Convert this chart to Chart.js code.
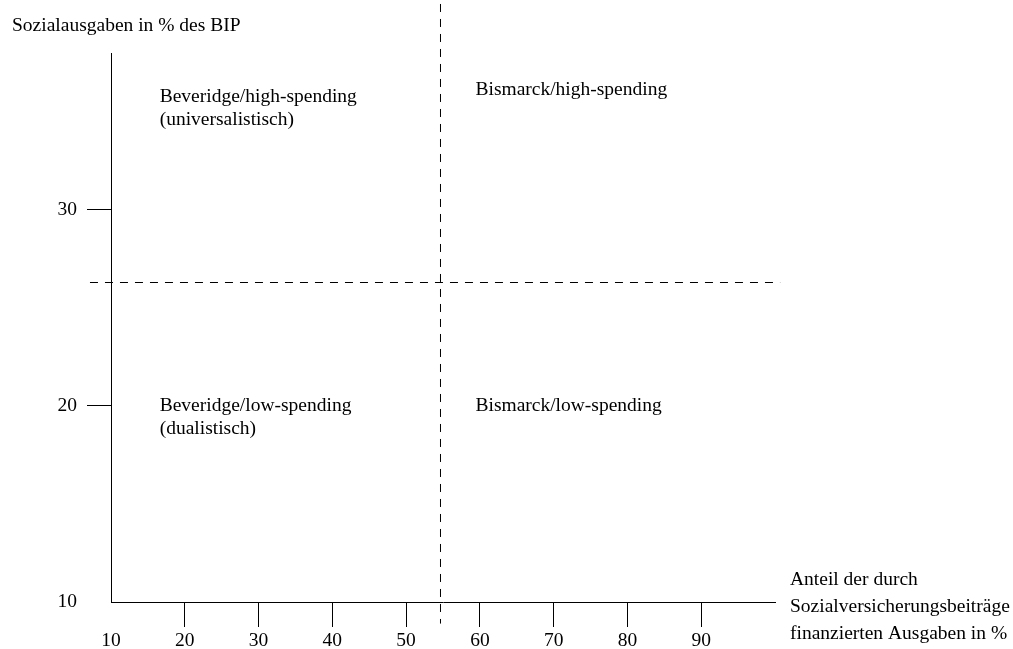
<!DOCTYPE html>
<html>
<head>
<meta charset="utf-8">
<script src="https://cdn.jsdelivr.net/npm/chart.js@4/dist/chart.umd.min.js"></script>
<style>
    html, body { margin: 0; padding: 0; background: #fff; }
    #wrap { width: 1013px; height: 649px; position: relative; }
</style>
</head>
<body>
<div id="wrap"><canvas id="myChart"></canvas></div>
<script>
// Achsen
const xTicks = [10, 20, 30, 40, 50, 60, 70, 80, 90];
const yTicks = [10, 20, 30];
const xRange = [10, 100];
const yRange = [10, 38];

// Grenzen zwischen den Quadranten
const grenzeX = 54.66;   // Anteil Beitragsfinanzierung
const grenzeY = 26.295;  // Sozialausgaben in % des BIP

// Beschriftungen
const yTitle = 'Sozialausgaben in % des BIP';
const xTitle = ['Anteil der durch', 'Sozialversicherungsbeiträge', 'finanzierten Ausgaben in %'];
const quadrantLabels = [
    ['Beveridge/high-spending', '(universalistisch)'],
    ['Bismarck/high-spending'],
    ['Beveridge/low-spending', '(dualistisch)'],
    ['Bismarck/low-spending']
];

const FONT = { family: '"Liberation Serif", "Times New Roman", serif', size: 19.5 };
const fontStr = FONT.size + 'px ' + FONT.family;

// Text im Diagramm (Quadranten + Achsentitel)
const textPlugin = {
    id: 'texte',
    afterDraw(chart, args, opts) {
        const c = chart.ctx;
        const xs = chart.scales.x, ys = chart.scales.y;
        const area = chart.chartArea;
        c.save();
        c.font = fontStr;
        c.fillStyle = '#000';
        c.textAlign = 'left';
        c.textBaseline = 'middle';

        quadrantLabels.forEach((lines, i) => {
            const pos = opts.anchors[i];
            const px = xs.getPixelForValue(pos[0]);
            const py = ys.getPixelForValue(pos[1]);
            lines.forEach((t, j) => c.fillText(t, px, py + j * opts.lineHeight));
        });

        c.fillText(yTitle, 12, 26);
        xTitle.forEach((t, j) => c.fillText(t, area.right + 15, 580 + j * 27));
        c.restore();
    }
};

const dashed = {
    borderColor: '#000',
    borderWidth: 1,
    borderDash: [8, 7],
    pointRadius: 0,
    showLine: true,
    clip: false,
    fill: false
};

const data = {
    datasets: [
        Object.assign({ data: [{ x: grenzeX, y: 40.5 }, { x: grenzeX, y: 8.9 }] }, dashed),
        Object.assign({ data: [{ x: 7.15, y: grenzeY }, { x: 100.7, y: grenzeY }] }, dashed)
    ]
};

const hideTen = ctx => (ctx.tick && ctx.tick.value === 10) ? 'rgba(0,0,0,0)' : '#000';

const config = {
    type: 'scatter',
    data: data,
    options: {
        responsive: true,
        maintainAspectRatio: false,
        animation: false,
        layout: { padding: { left: 0, top: 53, right: 238, bottom: 0 } },
        plugins: {
            legend: { display: false },
            tooltip: { enabled: false },
            texte: {
                lineHeight: 23,
                anchors: [[16.6, 35.75], [59.4, 36.1], [16.6, 20.0], [59.4, 20.0]]
            }
        },
        scales: {
            x: {
                type: 'linear',
                min: xRange[0],
                max: xRange[1],
                grid: { drawOnChartArea: false, tickLength: 25, color: hideTen, lineWidth: 1 },
                border: { color: '#000', width: 1 },
                ticks: { font: FONT, color: '#000', padding: 2, maxRotation: 0 },
                afterBuildTicks: s => { s.ticks = xTicks.map(v => ({ value: v })); },
                afterFit: s => { s.height = 47; }
            },
            y: {
                type: 'linear',
                min: yRange[0],
                max: yRange[1],
                grid: { drawOnChartArea: false, tickLength: 24, color: hideTen, lineWidth: 1 },
                border: { color: '#000', width: 1 },
                ticks: { font: FONT, color: '#000', padding: 10 },
                afterBuildTicks: s => { s.ticks = yTicks.map(v => ({ value: v })); },
                afterFit: s => { s.width = 111; }
            }
        }
    },
    plugins: [textPlugin]
};

const myChart = new Chart(document.getElementById('myChart'), config);
</script>
</body>
</html>
